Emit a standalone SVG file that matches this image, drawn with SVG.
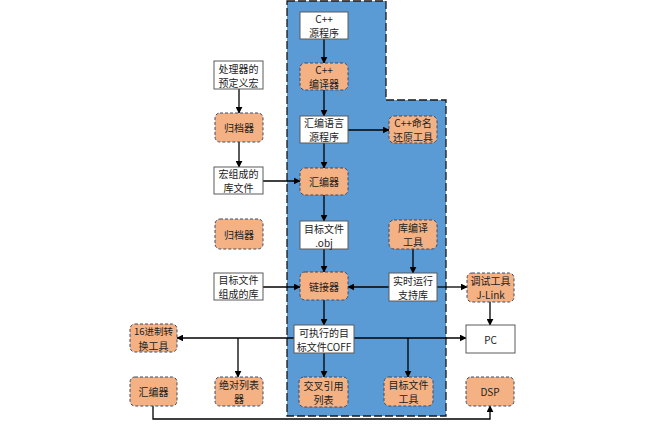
<svg xmlns="http://www.w3.org/2000/svg" width="671" height="431" viewBox="0 0 671 431">
<style>
text{font-family:"Noto Sans CJK SC","Liberation Sans",sans-serif;font-size:10px;fill:#222;text-anchor:middle;dominant-baseline:central}
.w{fill:#fff;stroke:#5a5a5a;stroke-width:1}
.o{fill:#F4B183;stroke:#3f4a66;stroke-width:1;stroke-dasharray:3,2}
.c{fill:none;stroke:#000;stroke-width:1.3;marker-end:url(#a)}
</style>
<defs>
<marker id="a" viewBox="0 0 10 10" refX="9" refY="5" markerWidth="7" markerHeight="7" markerUnits="userSpaceOnUse" orient="auto"><path d="M0,0L10,5L0,10z" fill="#000"/></marker>
</defs>
<rect width="671" height="431" fill="#fff"/>
<g id="region">
<path d="M287,1H386V100H446V416H287Z" fill="#5B9BD5" stroke="#1a1a1a" stroke-width="1.3" stroke-dasharray="8,3"/>
</g>
<g id="connectors">
<path class="c" d="M324,39V63"/>
<path class="c" d="M324,90V116"/>
<path class="c" d="M348,130H389"/>
<path class="c" d="M324,143V168"/>
<path class="c" d="M239,89V113"/>
<path class="c" d="M239,142V167"/>
<path class="c" d="M263,181H300"/>
<path class="c" d="M324,195V221"/>
<path class="c" d="M324,249V272"/>
<path class="c" d="M413,249V273"/>
<path class="c" d="M263,287H300"/>
<path class="c" d="M389,287H348"/>
<path class="c" d="M437,287H467"/>
<path class="c" d="M490,302V325"/>
<path class="c" d="M324,300V325"/>
<path class="c" d="M324,353V377"/>
<path class="c" d="M294,338H177"/>
<path class="c" d="M238,338V377"/>
<path class="c" d="M354,338H466"/>
<path class="c" d="M408,338V377"/>
<path class="c" d="M153,406V419H490V406"/>
</g>
<g id="n1"><rect class="w" x="300" y="12" width="48" height="27"/><text x="324" y="18.5">C++</text><text x="324" y="32.5">源程序</text></g>
<g id="n2"><rect class="o" x="300" y="63" width="48" height="27" rx="5"/><text x="324" y="69.5">C++</text><text x="324" y="83.5">编译器</text></g>
<g id="n3"><rect class="w" x="300" y="116" width="48" height="27"/><text x="324" y="122.5">汇编语言</text><text x="324" y="136.5">源程序</text></g>
<g id="n4"><rect class="o" x="389" y="116" width="48" height="27" rx="5"/><text x="413" y="122.5">C++命名</text><text x="413" y="136.5">还原工具</text></g>
<g id="n5"><rect class="o" x="300" y="168" width="48" height="27" rx="5"/><text x="324" y="181.5">汇编器</text></g>
<g id="n6"><rect class="w" x="300" y="221" width="48" height="28"/><text x="324" y="228">目标文件</text><text x="324" y="242">.obj</text></g>
<g id="n7"><rect class="o" x="389" y="220" width="48" height="29" rx="5"/><text x="413" y="227.5">库编译</text><text x="413" y="241.5">工具</text></g>
<g id="n8"><rect class="o" x="300" y="272" width="48" height="28" rx="5"/><text x="324" y="286">链接器</text></g>
<g id="n9"><rect class="w" x="389" y="273" width="48" height="28"/><text x="413" y="280">实时运行</text><text x="413" y="294">支持库</text></g>
<g id="n10"><rect class="o" x="467" y="273" width="47" height="29" rx="5"/><text x="490.5" y="280.5">调试工具</text><text x="490.5" y="294.5">J-Link</text></g>
<g id="n11"><rect class="w" x="466" y="325" width="49" height="28"/><text x="490.5" y="339">PC</text></g>
<g id="n12"><rect class="w" x="294" y="325" width="60" height="28"/><text x="324" y="332">可执行的目</text><text x="324" y="346">标文件COFF</text></g>
<g id="n13"><rect class="o" x="299" y="377" width="49" height="30" rx="5"/><text x="323.5" y="385">交叉引用</text><text x="323.5" y="399">列表</text></g>
<g id="n14"><rect class="o" x="384" y="377" width="49" height="29" rx="5"/><text x="408.5" y="384.5">目标文件</text><text x="408.5" y="398.5">工具</text></g>
<g id="n15"><rect class="o" x="466" y="377" width="48" height="29" rx="5"/><text x="490" y="391.5">DSP</text></g>
<g id="n16"><rect class="o" x="130" y="324" width="47" height="28" rx="5"/><text x="153.5" y="331" style="font-size:9.5px">16进制转</text><text x="153.5" y="345">换工具</text></g>
<g id="n17"><rect class="o" x="215" y="377" width="48" height="29" rx="5"/><text x="239" y="384.5">绝对列表</text><text x="239" y="398.5">器</text></g>
<g id="n18"><rect class="o" x="130" y="377" width="47" height="29" rx="5"/><text x="153.5" y="391.5">汇编器</text></g>
<g id="n19"><rect class="w" x="214" y="61" width="49" height="28"/><text x="238.5" y="68">处理器的</text><text x="238.5" y="82">预定义宏</text></g>
<g id="n20"><rect class="o" x="215" y="113" width="48" height="29" rx="5"/><text x="239" y="127.5">归档器</text></g>
<g id="n21"><rect class="w" x="214" y="167" width="49" height="27"/><text x="238.5" y="173.5">宏组成的</text><text x="238.5" y="187.5">库文件</text></g>
<g id="n22"><rect class="o" x="215" y="219" width="48" height="30" rx="5"/><text x="239" y="234">归档器</text></g>
<g id="n23"><rect class="w" x="214" y="273" width="49" height="27"/><text x="238.5" y="279.5">目标文件</text><text x="238.5" y="293.5">组成的库</text></g>
</svg>
